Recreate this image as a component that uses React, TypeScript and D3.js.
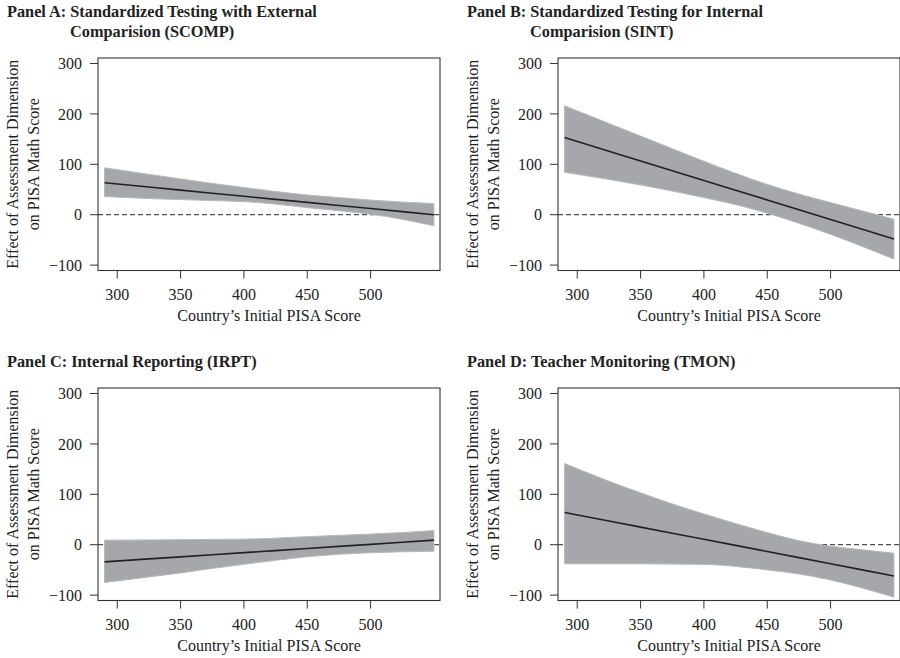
import { useMemo } from 'react'
import * as d3 from 'd3'

// country's initial PISA score (x) at which the effect and its band are read
const pisaGrid = [290, 325, 350, 375, 400, 425, 450, 475, 500, 525, 550]

const scompEst = [63.5, 55, 48.8, 42.7, 36.6, 30.5, 24.4, 18.3, 12.2, 6.1, 0]
const scompHi = [93, 80, 71, 62, 54, 46, 39, 34, 29, 25, 22]
const scompLo = [36, 32, 30, 28, 26, 21, 14, 8, 1, -9, -22]

const sintEst = [153, 126, 106.6, 87.3, 68, 48.6, 29.3, 10, -9.4, -28.7, -48]
const sintHi = [216, 181, 156, 131, 106, 82, 60, 41, 24, 7.5, -9]
const sintLo = [84, 70, 59, 47, 34, 20, 3, -17, -39, -63, -88]

const irptEst = [-34, -28.2, -24.1, -19.9, -15.8, -11.7, -7.5, -3.4, 0.7, 4.9, 9]
const irptHi = [9, 9.5, 10, 10.5, 11, 13, 16, 18.5, 21, 24, 28]
const irptLo = [-75, -64, -56, -47, -39, -31, -24, -19, -16, -14, -13]

const tmonEst = [64, 47, 34.9, 22.8, 10.7, -1.4, -13.5, -25.7, -37.8, -49.9, -62]
const tmonHi = [161, 126, 103, 81, 61, 42, 24, 8, -3, -10, -17]
const tmonLo = [-38, -38, -38, -38.5, -39, -43, -50, -58, -70, -86, -104]

const xTicks = [300, 350, 400, 450, 500]
const yTicks = [-100, 0, 100, 200, 300]

const FONT = '"Liberation Serif", "Times New Roman", serif'
const INK = '#222'
const W = 342
const H = 212.5

function Panel({ ox, oy, title, est, lo, hi }) {
  const x = d3.scaleLinear().domain([284.8, 554.8]).range([0, W])
  const y = d3.scaleLinear().domain([-110.7, 310.9]).range([H, 0])

  const rows = pisaGrid.map((p, i) => ({ p, est: est[i], lo: lo[i], hi: hi[i] }))

  const band = d3
    .area()
    .x((d) => x(d.p))
    .y0((d) => y(d.lo))
    .y1((d) => y(d.hi))
    .curve(d3.curveMonotoneX)
  const line = d3
    .line()
    .x((d) => x(d.p))
    .y((d) => y(d.est))

  const titleY = title.length > 1 ? [-41.3, -21.3] : [-21.3]

  return (
    <g transform={`translate(${ox},${oy})`} fontFamily={FONT} fill={INK}>
      {title.map((t, i) => (
        <text key={i} x={i === 0 ? -91 : -28} y={titleY[i]} fontSize={16.3} fontWeight="bold">
          {t}
        </text>
      ))}

      <line x1={0} x2={W} y1={y(0)} y2={y(0)} stroke={INK} strokeWidth={1} strokeDasharray="5,3" />
      <path d={band(rows)} fill="#a6a7ab" stroke="#b7b8bb" strokeWidth={1} />
      <path d={line(rows)} fill="none" stroke={INK} strokeWidth={1.6} />

      <rect x={0} y={0} width={W} height={H} fill="none" stroke="#333" strokeWidth={1.1} />

      {yTicks.map((t) => (
        <g key={t} transform={`translate(0,${y(t)})`}>
          <line x1={-8} x2={0} stroke="#333" />
          <text x={-16} dy="0.35em" textAnchor="end" fontSize={16}>
            {t < 0 ? `\u2212${Math.abs(t)}` : t}
          </text>
        </g>
      ))}
      {xTicks.map((t) => (
        <g key={t} transform={`translate(${x(t)},${H})`}>
          <line y1={0} y2={8} stroke="#333" />
          <text y={29} textAnchor="middle" fontSize={16}>
            {t}
          </text>
        </g>
      ))}

      <text x={W / 2} y={H + 50.5} textAnchor="middle" fontSize={16}>
        Country’s Initial PISA Score
      </text>
      <g transform={`translate(-80,${H / 2}) rotate(-90)`}>
        <text textAnchor="middle" fontSize={16}>
          Effect of Assessment Dimension
        </text>
        <text y={21} textAnchor="middle" fontSize={16}>
          on PISA Math Score
        </text>
      </g>
    </g>
  )
}

export default function App() {
  const panels = useMemo(
    () => [
      {
        ox: 98,
        oy: 58,
        title: ['Panel A: Standardized Testing with External', 'Comparision (SCOMP)'],
        est: scompEst,
        lo: scompLo,
        hi: scompHi,
      },
      {
        ox: 558,
        oy: 58,
        title: ['Panel B: Standardized Testing for Internal', 'Comparision (SINT)'],
        est: sintEst,
        lo: sintLo,
        hi: sintHi,
      },
      { ox: 98, oy: 388, title: ['Panel C: Internal Reporting (IRPT)'], est: irptEst, lo: irptLo, hi: irptHi },
      { ox: 558, oy: 388, title: ['Panel D: Teacher Monitoring (TMON)'], est: tmonEst, lo: tmonLo, hi: tmonHi },
    ],
    []
  )

  return (
    <svg
      width={900}
      height={658}
      style={{ position: 'absolute', left: 0, top: 0, background: '#fff' }}
    >
      {panels.map((p, i) => (
        <Panel key={i} {...p} />
      ))}
    </svg>
  )
}
